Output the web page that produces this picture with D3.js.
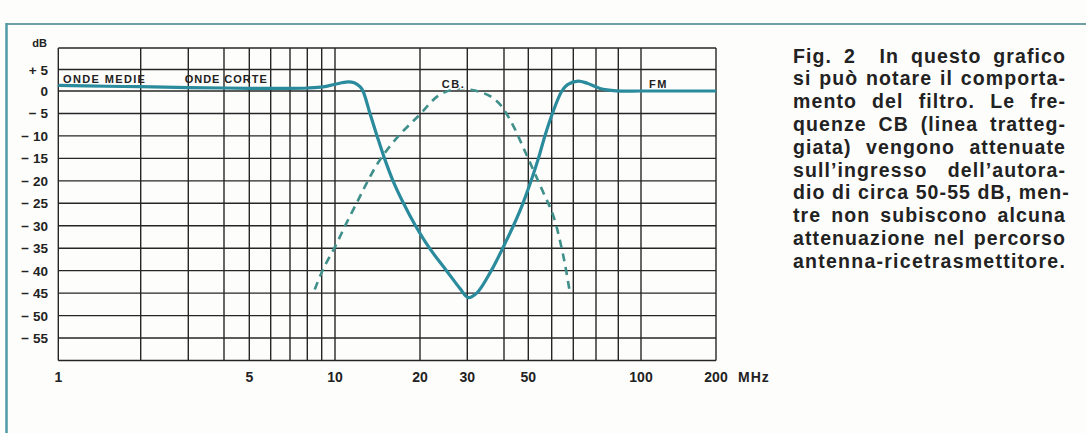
<!DOCTYPE html>
<html><head><meta charset="utf-8">
<script src="https://cdn.jsdelivr.net/npm/d3@7"></script>
<style>
html,body{margin:0;padding:0;background:#fdfdfc;}
svg{display:block;}
.ax{font-family:"Liberation Sans Narrow","Liberation Sans",Arial,sans-serif;font-weight:bold;fill:#222;}
.cap{font-family:"Liberation Sans",Arial,sans-serif;font-weight:bold;font-size:19.5px;letter-spacing:1.1px;fill:#222;white-space:pre;}
</style></head><body>
<svg id="c" width="1086" height="433"></svg>
<script>
// ---- data ----
const gridFreqs = [1,2,3,4,5,6,7,8,9,10,20,30,40,50,60,70,80,90,100,200];
const freqLabels = [1,5,10,20,30,50,100,200];
const dbGrid = [10,5,0,-5,-10,-15,-20,-25,-30,-35,-40,-45,-50,-55,-60];
const dbLabels = [5,0,-5,-10,-15,-20,-25,-30,-35,-40,-45,-50,-55];

// filter response (solid)
const filterFreq = [1.0,1.5,2.0,3.0,4.0,5.0,6.0,7.0,8.0,9.1,10.0,11.1,11.7,12.26,12.56,13.3,14.09,14.97,16.05,17.48,19.28,21.7,25.1,28.2,30.2,32.3,36.2,39.6,43.6,47.6,51.1,54.1,56.9,60.3,64.5,67.2,72.0,76.0,81.7,89.0,100,150,200];
const filterDb   = [1.3,1.1,1.0,0.8,0.7,0.6,0.6,0.6,0.7,0.96,1.56,2.1,1.9,1.0,0,-5,-10,-15,-20,-25,-30,-35,-40,-44,-46,-45,-40,-35,-30,-25,-20,-15,-10,-5,0,1.5,2.3,1.8,0.6,0.05,0,0,0];

// CB band (dashed)
const cbFreq = [8.5,9.1,10.0,11.0,12.1,12.95,14.4,16.8,20.0,23.2,26.0,28.0,30.0,33.1,36.0,38.9,43.5,47.5,52.0,56.1,60.7,65.1,68.1];
const cbDb   = [-44.2,-39.7,-34.7,-29.3,-24.2,-20.5,-15.4,-10,-5.2,-1.2,0.2,0.6,0.4,-0.2,-1.2,-3.1,-7.7,-12.3,-17.6,-22.5,-27.8,-36.5,-44.3];

// in-plot labels (anchored in data space)
const bandNames = ["ONDE MEDIE","ONDE CORTE","CB.","FM"];
const bandFreq  = [1.04, 2.91, 24.1, 107.7];
const bandDb    = [1.8, 1.8, 0.7, 0.7];

const captionLines = [
  "Fig. 2  In questo grafico",
  "si può notare il comporta-",
  "mento del filtro. Le fre-",
  "quenze CB (linea tratteg-",
  "giata) vengono attenuate",
  "sull’ingresso dell’autora-",
  "dio di circa 50-55 dB, men-",
  "tre non subiscono alcuna",
  "attenuazione nel percorso",
  "antenna-ricetrasmettitore."
];

// ---- scales (hand-drawn log paper, calibrated piecewise) ----
const x = d3.scaleLog()
  .domain(gridFreqs)
  .range([58.3,140.7,188.3,224,249.3,270.7,290,307.3,321.7,335,420,467.3,504,528.3,551.7,573.3,596,618.3,641,716]);
const y = d3.scaleLinear().domain([10,0,-60]).range([48,91,360.5]);

const svg = d3.select("#c");

// frame
svg.append("line").attr("x1",6).attr("x2",1086).attr("y1",24).attr("y2",24)
  .attr("stroke","#6f9ea3").attr("stroke-width",2);
svg.append("line").attr("x1",6.5).attr("x2",6.5).attr("y1",23).attr("y2",433)
  .attr("stroke","#4f9aa4").attr("stroke-width",2.5);

// grid
const g = svg.append("g");
g.selectAll("line.v").data(gridFreqs).join("line").attr("class","v")
  .attr("x1",d=>x(d)).attr("x2",d=>x(d)).attr("y1",y(10)).attr("y2",y(-60))
  .attr("stroke","#262626").attr("stroke-width",1.4);
g.selectAll("line.h").data(dbGrid).join("line").attr("class","h")
  .attr("x1",x(1)).attr("x2",x(200)).attr("y1",d=>y(d)).attr("y2",d=>y(d))
  .attr("stroke","#262626").attr("stroke-width",1.4);

// y labels
svg.append("text").attr("class","ax").attr("x",47).attr("y",y(10)-1).attr("text-anchor","end")
  .style("font-size","11px").text("dB");
svg.selectAll("text.yl").data(dbLabels).join("text").attr("class","ax yl")
  .attr("x",48).attr("y",d=>y(d)+5).attr("text-anchor","end").style("font-size","13.5px")
  .text(d=> d>0 ? "+ "+d : d===0 ? "0" : "\u2212 "+(-d));

// x labels
svg.selectAll("text.xl").data(freqLabels).join("text").attr("class","ax xl")
  .attr("x",d=>x(d)).attr("y",382).attr("text-anchor","middle").style("font-size","14px")
  .text(d=>d);
svg.append("text").attr("class","ax").attr("x",x(200)+22).attr("y",382).style("font-size","14px")
  .style("letter-spacing","1px").text("MHz");

// curves
const pts = (fs,ds)=>fs.map((f,i)=>[f,ds[i]]);
const line = d3.line().x(d=>x(d[0])).y(d=>y(d[1])).curve(d3.curveCatmullRom.alpha(0.5));
svg.append("path").attr("d",line(pts(cbFreq,cbDb))).attr("fill","none")
  .attr("stroke","#3f8f8a").attr("stroke-width",2.6).attr("stroke-dasharray","8,6");
svg.append("path").attr("d",line(pts(filterFreq,filterDb))).attr("fill","none")
  .attr("stroke","#2a8b9d").attr("stroke-width",3.2).attr("stroke-linejoin","round");

// band labels
bandNames.forEach((n,i)=>{
  const t = svg.append("text").attr("class","ax")
    .attr("x",x(bandFreq[i])).attr("y",y(bandDb[i]))
    .style("font-size","11px").text(n);
  if(n.length>4) t.attr("textLength",82).attr("lengthAdjust","spacing");
  else t.style("letter-spacing","1.5px");
  if(n==="CB.") t.attr("stroke","#fdfdfc").attr("stroke-width",3).attr("paint-order","stroke");
});

// caption
const capX = 793, capW = 273, capY0 = 62.5, capDy = 22.8;
captionLines.forEach((t,i)=>{
  const el = svg.append("text").attr("class","cap").attr("x",capX).attr("y",capY0+i*capDy).text(t);
  const w = el.node().getComputedTextLength();
  const spaces = (t.match(/ /g)||[]).length;
  if(spaces>0) el.style("word-spacing",Math.max(0,(capW-w)/spaces)+"px");
  else el.attr("textLength",capW).attr("lengthAdjust","spacing");
});
</script>
</body></html>
